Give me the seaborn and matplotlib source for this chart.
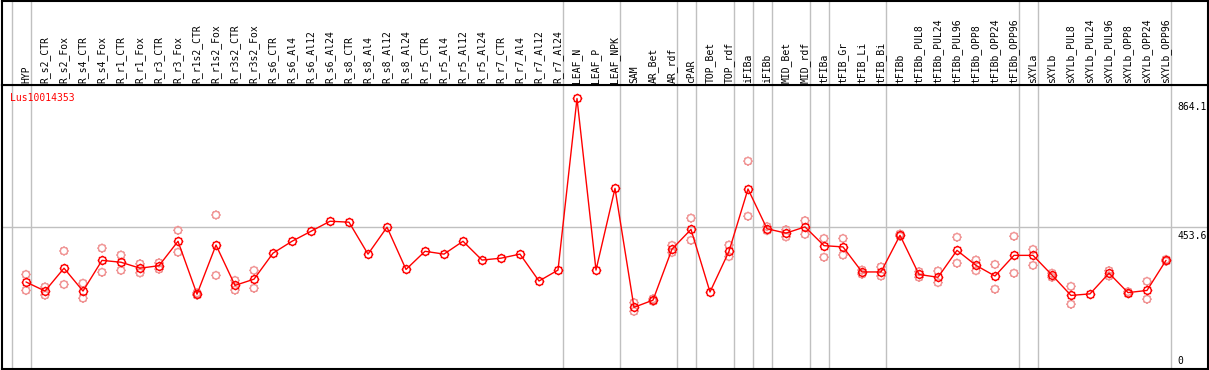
import numpy as np
import pandas as pd
import matplotlib
matplotlib.use("Agg")
import matplotlib.pyplot as plt
from matplotlib.path import Path
import matplotlib.transforms as mtransforms
import seaborn as sns

categories = ["HYP", "R_s2_CTR", "R_s2_Fox", "R_s4_CTR", "R_s4_Fox", "R_r1_CTR", "R_r1_Fox",
              "R_r3_CTR", "R_r3_Fox", "R_r1s2_CTR", "R_r1s2_Fox", "R_r3s2_CTR", "R_r3s2_Fox",
              "R_s6_CTR", "R_s6_Al4", "R_s6_Al12", "R_s6_Al24", "R_s8_CTR", "R_s8_Al4",
              "R_s8_Al12", "R_s8_Al24", "R_r5_CTR", "R_r5_Al4", "R_r5_Al12", "R_r5_Al24",
              "R_r7_CTR", "R_r7_Al4", "R_r7_Al12", "R_r7_Al24", "LEAF_N", "LEAF_P", "LEAF_NPK",
              "SAM", "AR_Bet", "AR_rdf", "cPAR", "TOP_Bet", "TOP_rdf", "iFIBa", "iFIBb",
              "MID_Bet", "MID_rdf", "tFIBa", "tFIB_Gr", "tFIB_Li", "tFIB_Bi", "tFIBb",
              "tFIBb_PUL8", "tFIBb_PUL24", "tFIBb_PUL96", "tFIBb_OPP8", "tFIBb_OPP24",
              "tFIBb_OPP96", "sXYLa", "sXYLb", "sXYLb_PUL8", "sXYLb_PUL24", "sXYLb_PUL96",
              "sXYLb_OPP8", "sXYLb_OPP24", "sXYLb_OPP96"]

mean_values = [278, 249, 322, 249, 347, 341, 322, 330, 408, 239, 396, 267, 287,
               370, 408, 440, 472, 469, 367, 453, 318, 376, 367, 408, 348, 354, 367, 281, 316,
               864.1, 316, 577,
               197, 220, 383, 446, 246, 376, 575, 448, 434, 454, 394, 390, 310, 310, 427,
               302, 293, 379, 331, 297, 363, 363, 300, 235, 240, 306, 244, 251, 347]

rep_labels = ["HYP", "HYP", "R_s2_CTR", "R_s2_CTR", "R_s2_Fox", "R_s2_Fox", "R_s4_CTR", "R_s4_CTR",
              "R_s4_Fox", "R_s4_Fox", "R_r1_CTR", "R_r1_CTR", "R_r1_Fox", "R_r1_Fox",
              "R_r3_CTR", "R_r3_CTR", "R_r3_Fox", "R_r3_Fox", "R_r1s2_CTR", "R_r1s2_CTR",
              "R_r1s2_Fox", "R_r1s2_Fox", "R_r3s2_CTR", "R_r3s2_CTR", "R_r3s2_Fox", "R_r3s2_Fox",
              "SAM", "SAM", "AR_Bet", "AR_Bet", "AR_rdf", "AR_rdf", "cPAR", "cPAR",
              "TOP_rdf", "TOP_rdf", "iFIBa", "iFIBa", "iFIBb", "iFIBb", "MID_Bet", "MID_Bet",
              "MID_rdf", "MID_rdf", "tFIBa", "tFIBa", "tFIB_Gr", "tFIB_Gr", "tFIB_Li", "tFIB_Li",
              "tFIB_Bi", "tFIB_Bi", "tFIBb", "tFIBb", "tFIBb_PUL8", "tFIBb_PUL8",
              "tFIBb_PUL24", "tFIBb_PUL24", "tFIBb_PUL96", "tFIBb_PUL96", "tFIBb_OPP8", "tFIBb_OPP8",
              "tFIBb_OPP24", "tFIBb_OPP24", "tFIBb_OPP96", "tFIBb_OPP96", "sXYLa", "sXYLa",
              "sXYLb", "sXYLb", "sXYLb_PUL8", "sXYLb_PUL8", "sXYLb_PUL96", "sXYLb_PUL96",
              "sXYLb_OPP8", "sXYLb_OPP8", "sXYLb_OPP24", "sXYLb_OPP24", "sXYLb_OPP96", "sXYLb_OPP96"]
rep_values = [302, 251, 262, 236, 377, 270, 274, 226,
              386, 309, 364, 315, 336, 307,
              339, 319, 443, 373, 243, 236,
              492, 299, 283, 252, 315, 258,
              212, 184, 224, 216, 395, 372, 482, 411,
              396, 359, 664, 488, 455, 442, 445, 422,
              474, 430, 417, 357, 417, 364, 303, 316,
              326, 297, 431, 424, 311, 293,
              313, 276, 421, 338, 348, 314,
              334, 255, 424, 306, 382, 331,
              306, 293, 264, 207, 314, 297,
              247, 241, 280, 223, 350, 344]

group_ends = [-1, 0, 28, 31, 34, 35, 37, 38, 39, 41, 42, 45, 52, 53, 60]
y_labels = ["864.1", "453.6", "0"]
y_label_values = [864.1, 453.6, 0]
y_top = 907.2
gene = "Lus10014353"

W, H = 1209, 370
DPI = 100
sns.set_theme(style="white")
plt.rcParams["font.family"] = ["DejaVu Sans Mono", "DejaVu Sans"]

fig = plt.figure(figsize=(W / DPI, H / DPI), dpi=DPI)
fig.patch.set_facecolor("white")

def px_box(l, t, r, b):
    return [l / W, 1 - b / H, (r - l) / W, (b - t) / H]

ax = fig.add_axes(px_box(2, 85, 1208, 369))
axt = fig.add_axes(px_box(2, 1, 1208, 85))

x_of = {c: i for i, c in enumerate(categories)}
df = pd.DataFrame({"x": np.arange(len(categories)), "y": mean_values})
rdf = pd.DataFrame({"x": [x_of[c] for c in rep_labels], "y": rep_values})

xlim = ((2 - 26) / 19, (1208 - 26) / 19)

# marker: circle with small radial spikes
circ = Path.unit_circle()
spikes = []
for k in range(8):
    a = k * np.pi / 4
    spikes.append(Path([(np.cos(a), np.sin(a)), (1.3 * np.cos(a), 1.3 * np.sin(a))],
                       [Path.MOVETO, Path.LINETO]))
mk = Path.make_compound_path(circ, *spikes)

grid_c = "#c0c0c0"
for a in (ax, axt):
    a.set_xlim(*xlim)
    for g in group_ends:
        a.axvline(g + 0.25, color=grid_c, lw=1.0, zorder=0)
    a.set_xticks([])
    a.set_yticks([])
    for s in a.spines.values():
        s.set_color("black")
        s.set_linewidth(1.5)

ax.set_ylim(0, y_top)
axt.set_ylim(0, 1)
ax.axhline(453.6, color=grid_c, lw=1.0, zorder=0)

pink = "#f09494"
sns.scatterplot(data=rdf, x="x", y="y", marker=mk, s=45, color=pink, facecolor="none",
                edgecolor=pink, linewidth=1.0, ax=ax, zorder=2, legend=False)
sns.lineplot(data=df, x="x", y="y", color="red", lw=1.0, estimator=None, sort=False,
             marker=mk, markersize=7, markerfacecolor="none", markeredgecolor="red",
             markeredgewidth=1.0, ax=ax, zorder=3, legend=False)
ax.set_xlabel("")
ax.set_ylabel("")
ax.set_xlim(*xlim)
ax.set_ylim(0, y_top)

# category labels
tt = mtransforms.blended_transform_factory(axt.transData, axt.transAxes)
for i, c in enumerate(categories):
    axt.text(i, 2 / 84, c, rotation=90, ha="center", va="bottom", fontsize=7,
             color="black", transform=tt)

ax.text(8 / 1206, 1 - 8 / 284, gene, transform=ax.transAxes, ha="left", va="top",
        fontsize=7, color="red")

xt = mtransforms.blended_transform_factory(ax.transAxes, ax.transData)
for lab, v in zip(y_labels, y_label_values):
    if v == 0:
        off = mtransforms.ScaledTranslation(0, 3 / DPI, fig.dpi_scale_trans)
        ax.text((1177 - 2) / 1206, v, lab, transform=xt + off, ha="left", va="bottom",
                fontsize=7, color="black")
    else:
        off = mtransforms.ScaledTranslation(0, -4 / DPI, fig.dpi_scale_trans)
        ax.text((1177 - 2) / 1206, v, lab, transform=xt + off, ha="left", va="top",
                fontsize=7, color="black")

fig.savefig("out.png", dpi=DPI, facecolor="white")
